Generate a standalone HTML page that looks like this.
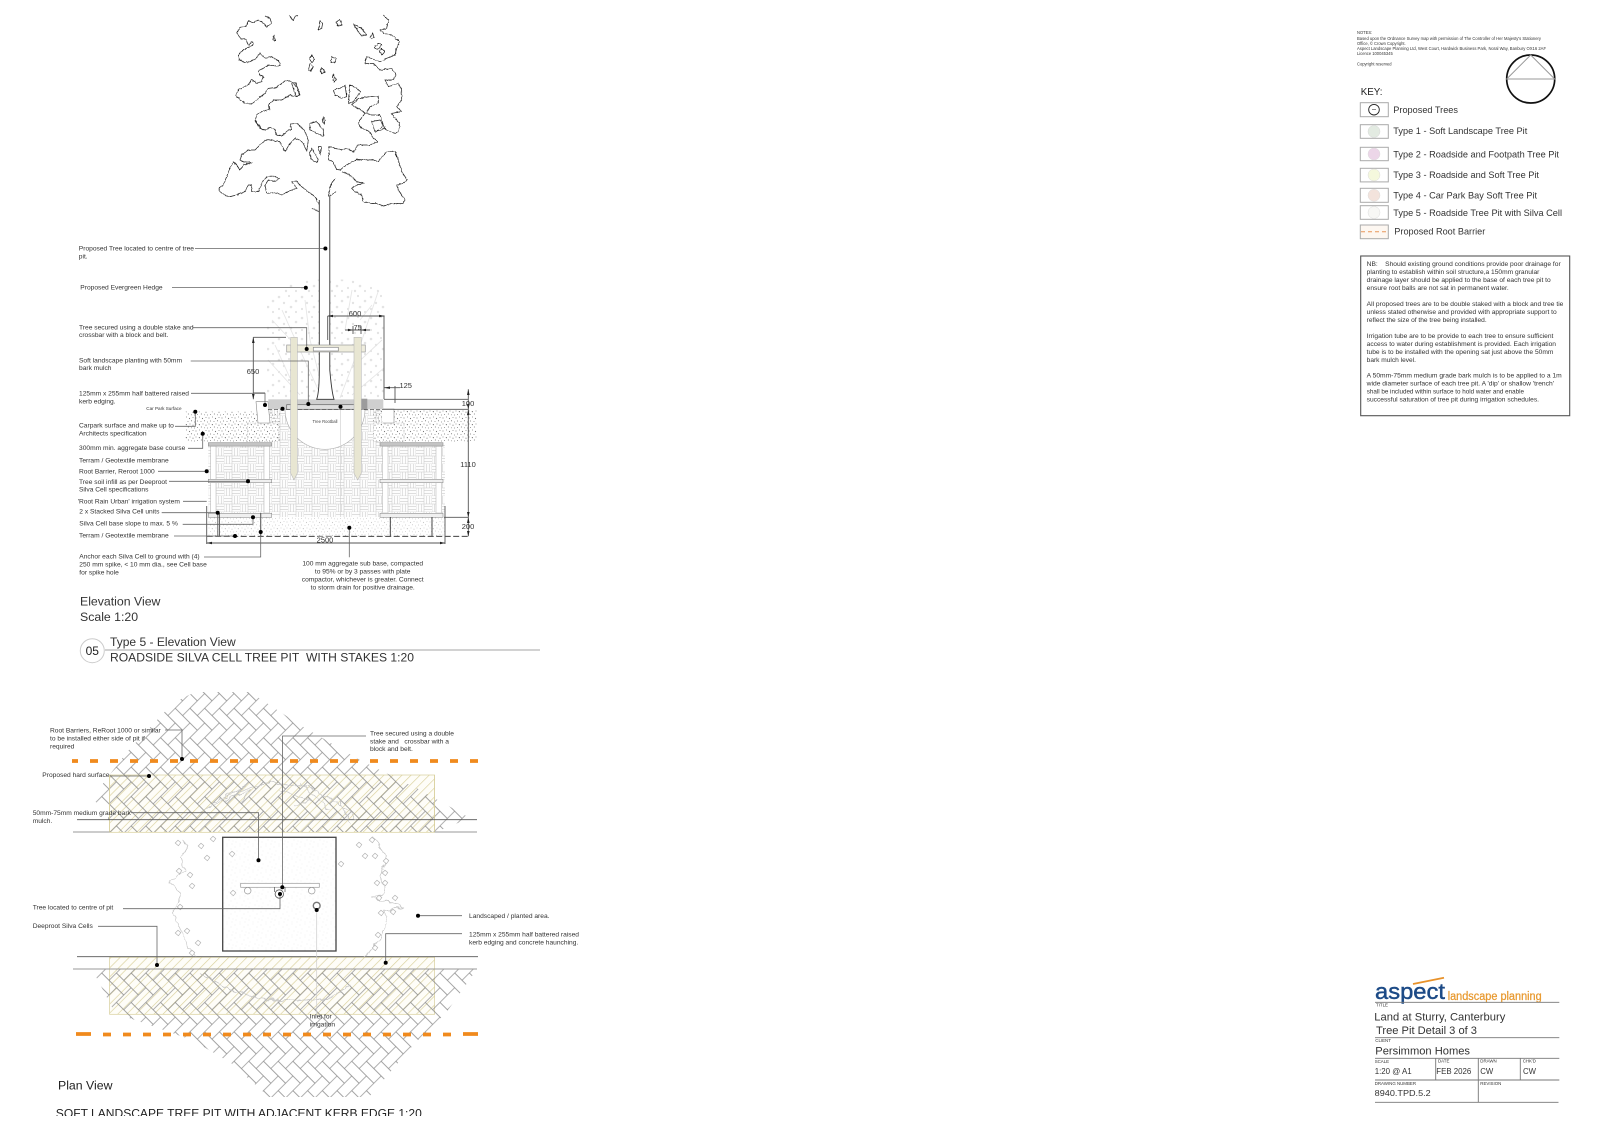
<!DOCTYPE html>
<html><head><meta charset="utf-8"><title>Tree Pit Detail 3 of 3</title>
<style>
html,body{margin:0;padding:0;background:#fff;width:1600px;height:1130px;overflow:hidden}
svg{display:block;font-family:"Liberation Sans",sans-serif;filter:blur(.3px)}
text{fill:#333}
.l{font-size:6.65px}
.n{font-size:6.4px}
.k{font-size:9.6px;fill:#222}
.h{font-size:12.3px;fill:#222}
.t{font-size:4.4px;fill:#555}
.v{font-size:9px;fill:#222}
.d{font-size:7.5px;fill:#333}
.ld{fill:none;stroke:#666;stroke-width:.8}
.dk{fill:none;stroke:#333;stroke-width:.9}
.lg{fill:none;stroke:#c2c2c2;stroke-width:.7}
</style></head><body>
<svg width="1600" height="1130" viewBox="0 0 1600 1130" xmlns="http://www.w3.org/2000/svg">
<defs>
<filter id="wob" x="-5%" y="-5%" width="110%" height="110%"><feTurbulence type="fractalNoise" baseFrequency=".13" numOctaves="2" seed="4"/><feDisplacementMap in="SourceGraphic" scale="6" xChannelSelector="R" yChannelSelector="G"/></filter>
<pattern id="herr" width="4" height="4" patternUnits="userSpaceOnUse" patternTransform="rotate(45 270 760) scale(10.4)"><path d="M0 0h2v1h-2zM2 0h1v2h-1zM3 1h2v1h-2zM-1 1h2v1h-2zM1 1h1v2h-1zM2 2h2v1h-2zM0 2h1v2h-1zM1 3h2v1h-2zM3 3h1v2h-1zM3 -1h1v2h-1z" fill="none" stroke="#858585" stroke-width=".062"/></pattern>
<pattern id="hatch" width="6.4" height="6.4" patternUnits="userSpaceOnUse" patternTransform="rotate(45)"><rect width="6.4" height="6.4" fill="#fefdf8"/><line x1="0" y1="0" x2="0" y2="6.4" stroke="#dad19c" stroke-width="1.3"/></pattern>
<pattern id="weave" width="16" height="16" patternUnits="userSpaceOnUse"><rect width="16" height="16" fill="#fdfdfd"/><path d="M0 2.7H8M0 5.3H8M0 8H16M8 10.7H16M8 13.3H16M0 16H16M8 0V8M10.7 0V8M13.3 0V8M16 0V8M0 8V16M2.7 8V16M5.3 8V16M8 8V16" fill="none" stroke="#cbcbcb" stroke-width=".55"/></pattern>
<pattern id="stip" width="13" height="13" patternUnits="userSpaceOnUse"><g fill="#777"><circle cx="1" cy="2" r=".55"/><circle cx="4.5" cy="1" r=".45"/><circle cx="7.5" cy="2.5" r=".6"/><circle cx="11" cy="1.5" r=".45"/><circle cx="2.5" cy="5" r=".55"/><circle cx="6" cy="5.5" r=".45"/><circle cx="9.5" cy="4.8" r=".55"/><circle cx="12.4" cy="6" r=".45"/><circle cx="1" cy="8" r=".45"/><circle cx="4.4" cy="8.6" r=".6"/><circle cx="8" cy="8" r=".45"/><circle cx="11" cy="9.2" r=".55"/><circle cx="2.5" cy="11.5" r=".45"/><circle cx="6.4" cy="11" r=".55"/><circle cx="9.4" cy="11.8" r=".45"/><circle cx="12.4" cy="12" r=".45"/></g></pattern>
<pattern id="stipl" width="13" height="13" patternUnits="userSpaceOnUse"><g fill="#d8d8d8"><circle cx="1" cy="2" r=".4"/><circle cx="6" cy="1" r=".35"/><circle cx="10" cy="4" r=".4"/><circle cx="3" cy="6" r=".35"/><circle cx="8" cy="8" r=".4"/><circle cx="12" cy="9" r=".35"/><circle cx="2" cy="10" r=".4"/><circle cx="6" cy="12" r=".35"/><circle cx="11" cy="12" r=".4"/></g></pattern>
<pattern id="hdots" width="23" height="21" patternUnits="userSpaceOnUse"><g fill="#e4e4e4"><circle cx="3" cy="3" r="1.3"/><circle cx="13" cy="2" r="1.1"/><circle cx="20" cy="7" r="1.3"/><circle cx="8" cy="9" r="1.2"/><circle cx="15" cy="13" r="1.3"/><circle cx="3" cy="15" r="1.1"/><circle cx="10" cy="18" r="1.2"/><circle cx="20" cy="18" r="1.1"/></g></pattern>
<clipPath id="hclip"><path d="M173 703 195 692 250 692 300 725 360 760 420 790 470 818 436 832 108 832 108 815 92 798 127 752Z"/></clipPath>
<clipPath id="hclip2"><path d="M92 969 477 969 446 1013 415 1043 369 1097 269 1097 231 1063 192 1040 115 1013Z"/></clipPath>
<clipPath id="tclip"><rect x="40" y="1100" width="420" height="16"/></clipPath>
<clipPath id="hedge"><path d="M267 400V300Q290 276 325 280Q365 276 386 296V400Z"/></clipPath>
<path id="dia" d="M-2.8 0 0-2.8 2.8-.4 .4 2.8Z" fill="#fff" stroke="#b5b5b5" stroke-width=".7"/>
</defs>
<rect width="1600" height="1130" fill="#fff"/>

<!-- TREE -->
<g transform="translate(210 0) scale(.33333)" fill="none" stroke="#222" stroke-width="2.2" stroke-linejoin="round">
<g filter="url(#wob)">
<path d="M165 48 180 55 185 70 170 80 160 70 145 60 130 68 115 62 108 78 90 82 80 100 92 115 108 118 115 135 128 125 130 135 115 142 100 150 85 165 90 180 105 188 120 185 135 178 150 160 165 175 185 170 205 182 212 195 200 198 175 195 160 205 145 212 150 225 160 228 155 245 140 250 125 238 118 252 100 262 85 268 78 285 90 300 105 310 125 312 140 300 165 280 175 265 200 262 222 245 235 240 250 250 262 262 270 285 262 290 240 285 215 300 190 300 175 315 178 328 155 335 140 345 135 365 150 378 152 385"/>
<path d="M520 45 535 60 530 85 510 90 520 100 545 105 568 125 560 145 555 165 530 175 510 185 490 178 470 170 465 190 490 190 510 210 545 205 558 225 550 240 525 240 535 260 565 250 575 270 575 300 560 320 575 335 545 340 550 350 570 370 565 395"/>
<path d="M325 90 330 62 338 70 335 85ZM378 68 388 58 398 75 385 78ZM430 72 455 85 470 105 455 108 445 95ZM480 112 488 100 492 112 485 117ZM192 105 196 122 188 120ZM305 165 314 180 305 188 298 175ZM300 190 310 200 303 214 295 210ZM365 170 380 175 375 188 363 188ZM335 203 345 215 335 222 330 212ZM370 222 378 240 372 245 367 232ZM505 130 515 135 502 150 493 143ZM515 145 524 155 517 165 508 155ZM236 45 250 62 255 50 264 46M370 270 390 265 405 255 410 290 395 295 375 285ZM420 255 440 265 452 275 430 305 415 310ZM245 250 258 248 268 285 258 290ZM340 352 346 360 342 372 337 362Z"/>
<path d="M450 360 465 340 445 325 425 315 445 295 480 290 505 290 505 310 480 320 470 340 485 345 510 345 520 375 510 385"/>
<g transform="translate(0 360)">
<path d="M135 0 150 25 165 30 180 22 195 28 200 45 215 48 235 30 245 28 240 12 260 10 275 22 285 35 295 60 290 95 280 70 270 60 255 55 240 70 225 95 210 65 190 62 170 58 150 75 135 90 115 90 95 105 90 120 100 125 125 128 100 135 90 150 80 135 70 125 60 145 50 170 40 195 25 205 30 215 45 225 60 230 80 225 105 215 115 195 125 195 125 215 145 215 155 190 170 170 190 168 208 175 195 185 175 180 165 195 170 220 195 218 215 225 240 212 260 205 245 185 260 183 275 200 295 215 315 230 328 255"/>
<path d="M305 265 328 275M358 228 378 215M395 155 420 165 440 185 462 190 440 195 425 205 435 215 455 225 460 245 480 250 500 250 520 258 545 250 580 250 585 240 565 210 560 195 580 190 592 180 575 155 565 120 555 95 530 95 505 125 490 120 440 118 410 135 390 150 380 148 368 125 355 120 358 80 375 85 395 90 410 85 430 95 445 75 480 75 503 65 490 55 480 35 455 25 445 10 450 0M555 40 540 35 520 25M565 35 555 40"/>
<path d="M305 85 325 120 320 128 305 118 298 100ZM325 80 335 80 330 105ZM300 10 320 5 340 30 340 50 320 40 300 30ZM485 5 510 0 525 25 495 35Z"/>
<path d="M375 175 362 195 355 230"/>
</g>
</g>
</g>

<!-- HEDGE -->
<g clip-path="url(#hedge)"><rect x="262" y="276" width="128" height="126" fill="url(#hdots)"/>
<path d="M322 398 300 350 282 310M300 350 272 320M325 398 310 340 305 300M340 398 362 340 378 292M352 368 382 340M345 330 352 290M300 395 268 360M352 395 384 368M290 378 275 345M360 320 372 305" fill="none" stroke="#e6e6e6" stroke-width=".9"/></g>

<!-- SOIL -->
<rect x="208.3" y="445" width="236.7" height="72" fill="url(#weave)"/>
<rect x="270" y="409.3" width="111.7" height="36" fill="url(#weave)"/>
<rect x="185" y="411.7" width="95" height="30" fill="url(#stip)"/>
<rect x="373" y="410" width="103.7" height="31.7" fill="url(#stip)"/>
<rect x="247.3" y="423" width="31" height="18.7" fill="#fff"/><rect x="247.3" y="423" width="31" height="18.7" fill="url(#stip)" stroke="#bbb" stroke-width=".5" stroke-dasharray="1.5 1"/>
<rect x="373.3" y="423" width="30.7" height="18.7" fill="#fff"/><rect x="373.3" y="423" width="30.7" height="18.7" fill="url(#stip)" stroke="#bbb" stroke-width=".5" stroke-dasharray="1.5 1"/>
<rect x="208" y="517.3" width="237" height="18.7" fill="url(#stip)" opacity=".4"/>
<path d="M256 401.7H268L270 423H258Z" fill="#fff" stroke="#888" stroke-width=".6"/>
<path d="M382.7 409H394V423H382.7" fill="#fff" stroke="#888" stroke-width=".6"/>

<!-- posts & plates -->
<g fill="#fff" stroke="#bcbcbc" stroke-width=".6">
<rect x="210.7" y="446" width="5.3" height="67"/><rect x="264" y="446" width="5.3" height="67"/><rect x="382.7" y="446" width="5.3" height="67"/><rect x="436" y="446" width="5.7" height="67"/>
</g>
<g stroke="#8f8f8f" stroke-width=".6">
<rect x="208.3" y="442.7" width="63.4" height="3.4" fill="#c4c4c4"/><rect x="380" y="442.7" width="63" height="3.4" fill="#c4c4c4"/>
<rect x="208.3" y="479.3" width="63.4" height="3.4" fill="#f0f0f0"/><rect x="380" y="479.3" width="63" height="3.4" fill="#f0f0f0"/>
<rect x="208.3" y="513.3" width="63.4" height="4" fill="#f0f0f0"/><rect x="380" y="513.3" width="63" height="4" fill="#f0f0f0"/>
</g>

<!-- pavement, plate, rootball -->
<path d="M285 409.3H365A40 40 0 0 1 285 409.3Z" fill="#fff" stroke="#aaa" stroke-width=".6"/>
<rect x="268.3" y="399.3" width="115" height="10" fill="#cfcfcf"/>
<rect x="286.7" y="404.7" width="80" height="4.6" fill="#dedede" stroke="#666" stroke-width=".7"/>
<rect x="360.7" y="398.7" width="6.6" height="10.6" fill="#9c9c9c"/>
<path d="M340.7 409V517" stroke="#ccc" stroke-width=".6" fill="none"/>
<path d="M268 409.3H383" stroke="#333" stroke-width=".7" stroke-dasharray="4 2" fill="none"/>
<!-- trunk -->
<path d="M319.3 200V370Q319.3 392 316.7 399.3H334Q331.7 392 329.8 370V196" fill="#fff" stroke="#333" stroke-width=".9"/>
<!-- crossbar and stakes -->
<rect x="286.7" y="345" width="78.6" height="7" fill="#efeddd" stroke="#999" stroke-width=".7"/>
<rect x="313.3" y="347.3" width="25" height="3.7" fill="#fff" stroke="#888" stroke-width=".7"/>
<path d="M290.7 337.3H297.3V473.3L294 480 290.7 473.3Z" fill="#e8e6d2" stroke="#bbb" stroke-width=".6"/>
<path d="M354 337.3H361.3V473.3L357.7 480 354 473.3Z" fill="#e8e6d2" stroke="#bbb" stroke-width=".6"/>
<text x="325" y="423" text-anchor="middle" style="font-size:4.2px;fill:#444">Tree Rootball</text>

<!-- elevation dims and structure lines -->
<g class="dk">
<path d="M206.7 536.3H468.3" stroke-dasharray="6 2.5" stroke="#222"/>
<path d="M219.3 513V536M260.7 513V536M390.3 517V536M432 517V536" stroke="#333"/>
<path d="M206.7 506V544M445 506V544M206.7 543H445" stroke="#555"/>
<path d="M468.3 389.3V536.3M383 409.3H468.3M384 399.3H468.3M444 517.3H468.3" stroke="#555"/>
<path d="M327.7 316H384.6M384 316V399M327.7 316V340M345 330H370M353 326V334M361 326V334" stroke="#555"/>
<path d="M384 387.7H400M395 386V403" stroke="#555"/>
<path d="M253.3 337.3V399.3M253.3 337.3H286M253.3 393H265" stroke="#555"/>
</g>
<g fill="#222"><path d="M468.3 389.3 467 395H469.6ZM468.3 409.3 467 404H469.6ZM468.3 409.3 467 415H469.6ZM468.3 517.3 467 512H469.6ZM468.3 517.3 467 523H469.6ZM468.3 536.3 467 531H469.6ZM206.7 543 212 541.8V544.2ZM445 543 440 541.8V544.2ZM327.7 316 333 314.8V317.2ZM384.6 316 379 314.8V317.2ZM253.3 337.3 252 343H254.6ZM253.3 399.3 252 394H254.6ZM353 330 348 328.8V331.2ZM361 330 366 328.8V331.2ZM384 387.7 390 386.5V388.9Z"/></g>
<g class="d" text-anchor="middle">
<rect x="318" y="536.5" width="15" height="5.5" fill="#fff"/>
<text x="325" y="542.3">2500</text><text x="355" y="316">600</text><text x="357.7" y="330">75</text>
<text x="253" y="374.2">650</text><text x="405.7" y="388.2">125</text><text x="468" y="406.2">100</text><text x="468" y="466.8">1110</text><text x="468" y="529.2">200</text>
</g>

<!-- elevation leaders -->
<g class="ld">
<path d="M195 248.5H325M172 287.5H305.8M193 327.7H306.7V349M190.7 361H308.3V404M191 393.3H265V405M175 426.3H195.3V411.7M188 448.3H202.7V433.7M158 471.3H206.7M169 481.3H248M183 501.3H206.7M161.7 512.7H217.7V536M182.7 524.3H253V517.3M174 536H235M204 557H260.7V512.7M349.3 527.7V557.3"/>
</g>
<g fill="#000">
<circle cx="325.4" cy="248.5" r="2"/><circle cx="305.8" cy="287.7" r="2"/><circle cx="306.7" cy="349" r="2"/><circle cx="308.3" cy="404" r="2"/><circle cx="265" cy="405" r="2"/><circle cx="340.5" cy="406.7" r="2"/><circle cx="282.5" cy="408.8" r="2"/><circle cx="195.3" cy="411.7" r="2"/><circle cx="202.7" cy="433.7" r="2"/><circle cx="206.7" cy="471.3" r="2"/><circle cx="248" cy="481.3" r="2"/><circle cx="217.7" cy="512.7" r="2"/><circle cx="253" cy="517.3" r="2"/><circle cx="235" cy="536" r="2"/><circle cx="260.7" cy="532" r="2"/><circle cx="349.3" cy="527.7" r="2"/>
</g>

<!-- elevation labels -->
<g class="l">
<text x="78.8" y="250.4">Proposed Tree located to centre of tree</text><text x="78.8" y="258.4">pit.</text>
<text x="80.3" y="289.4">Proposed Evergreen Hedge</text>
<text x="79" y="329.4">Tree secured using a double stake and</text><text x="79" y="337">crossbar with a block and belt.</text>
<text x="79" y="362.3">Soft landscape planting with 50mm</text><text x="79" y="370">bark mulch</text>
<text x="79" y="395.3">125mm x 255mm half battered raised</text><text x="79" y="403.3">kerb edging.</text>
<text x="146.3" y="410" style="font-size:4.6px">Car Park Surface</text>
<text x="79" y="427.3">Carpark surface and make up to</text><text x="79" y="435.3">Architects specification</text>
<text x="79" y="450">300mm min. aggregate base course</text>
<text x="79" y="462.3">Terram / Geotextile membrane</text>
<text x="79" y="473.3">Root Barrier, Reroot 1000</text>
<text x="79" y="484">Tree soil infill as per Deeproot</text><text x="79" y="491.6">Silva Cell specifications</text>
<text x="77.7" y="503.3">'Root Rain Urban' irrigation system</text>
<text x="79.3" y="513.6">2 x Stacked Silva Cell units</text>
<text x="79.3" y="525.6">Silva Cell base slope to max. 5 %</text>
<text x="79" y="537.6">Terram / Geotextile membrane</text>
<text x="79.3" y="558.6">Anchor each Silva Cell to ground with (4)</text><text x="79.3" y="566.6">250 mm spike, &lt; 10 mm dia., see Cell base</text><text x="79.3" y="574.6">for spike hole</text>
<g text-anchor="middle"><text x="362.7" y="565.6">100 mm aggregate sub base, compacted</text><text x="362.7" y="573.6">to 95% or by 3 passes with plate</text><text x="362.7" y="581.6">compactor, whichever is greater. Connect</text><text x="362.7" y="589.6">to storm drain for positive drainage.</text></g>
</g>
<g class="h">
<text x="80" y="605.4">Elevation View</text><text x="80" y="621">Scale 1:20</text>
<text x="110" y="646" textLength="125.7" lengthAdjust="spacingAndGlyphs">Type 5 - Elevation View</text>
<text x="110" y="661.4" textLength="304" lengthAdjust="spacingAndGlyphs">ROADSIDE SILVA CELL TREE PIT&#160; WITH STAKES 1:20</text>
</g>
<circle cx="92.3" cy="650.7" r="12" fill="#fff" stroke="#ccc" stroke-width="1"/>
<text x="92.3" y="655" text-anchor="middle" style="font-size:12px;fill:#222">05</text>
<path d="M105 650H540" stroke="#888" stroke-width=".8" fill="none"/>

<!-- PLAN -->
<rect x="109.6" y="775" width="325" height="57.3" fill="url(#hatch)" stroke="#d8cf9c" stroke-width=".7"/>
<rect x="109.6" y="957.3" width="325" height="57" fill="url(#hatch)" stroke="#d8cf9c" stroke-width=".7"/>
<g clip-path="url(#hclip)"><rect x="85" y="685" width="400" height="150" fill="url(#herr)"/></g>
<g clip-path="url(#hclip2)"><rect x="85" y="965" width="400" height="135" fill="url(#herr)"/></g>
<path d="M109.6 775V832.3M434.6 775V832.3" stroke="#d8cf9c" stroke-width=".8"/>
<path d="M77 819.7H477M77 956.7H478" stroke="#555" stroke-width=".9" fill="none"/>
<path d="M73 832H109.6M434.6 832H477M73 969H477" stroke="#999" stroke-width=".9" fill="none"/>
<path d="M90 761H478" stroke="#f08a1d" stroke-width="3.8" stroke-dasharray="8 12" fill="none"/>
<path d="M72 761H78" stroke="#f08a1d" stroke-width="3.8" fill="none"/>
<path d="M76 1034H91M463 1034H478" stroke="#f08a1d" stroke-width="3.8" fill="none"/>
<path d="M103 1034.5H460" stroke="#f08a1d" stroke-width="3.8" stroke-dasharray="8 12" fill="none"/>

<!-- shrub ghost -->
<g class="lg" filter="url(#wob)">
<path d="M181 840 188 847 181 857 185 870 169 883 181 893 173 913 181 930 188 947 196 957"/>
<path d="M373 837 387 857 381 877 385 893 373 898 404 907 385 910 387 923 379 940 365 957"/>
<path d="M200 813 230 793 269 783 308 787 338 803 358 820M215 805 245 785M300 783 330 810M340 800 350 825M225 800 250 790 240 805M280 790 310 800 295 805"/>
<path d="M200 973 230 990 269 1000 327 1000 350 985"/>
</g>
<g>
<use href="#dia" x="178" y="843"/><use href="#dia" x="201" y="846"/><use href="#dia" x="207" y="858"/><use href="#dia" x="232" y="855"/><use href="#dia" x="179" y="871"/><use href="#dia" x="190" y="875"/><use href="#dia" x="192" y="886"/><use href="#dia" x="180" y="907"/><use href="#dia" x="233" y="893"/><use href="#dia" x="187" y="931"/><use href="#dia" x="178" y="933"/><use href="#dia" x="198" y="943"/><use href="#dia" x="192" y="953"/><use href="#dia" x="213" y="839"/>
<use href="#dia" x="359" y="845"/><use href="#dia" x="372" y="840"/><use href="#dia" x="365" y="856"/><use href="#dia" x="375" y="856"/><use href="#dia" x="386" y="861"/><use href="#dia" x="341" y="864"/><use href="#dia" x="385" y="873"/><use href="#dia" x="377" y="883"/><use href="#dia" x="385" y="883"/><use href="#dia" x="379" y="898"/><use href="#dia" x="395" y="898"/><use href="#dia" x="381" y="913"/><use href="#dia" x="393" y="912"/><use href="#dia" x="378" y="935"/><use href="#dia" x="375" y="948"/>
</g>

<!-- pit -->
<rect x="222.7" y="837.3" width="113.3" height="113.7" fill="#fff"/>
<rect x="222.7" y="837.3" width="113.3" height="113.7" fill="url(#stipl)" stroke="#444" stroke-width="1.3"/>
<rect x="240.7" y="883.3" width="78.6" height="4" fill="#fff" stroke="#999" stroke-width=".7"/>
<circle cx="247.7" cy="890.7" r="3.3" fill="#fff" stroke="#999" stroke-width=".7"/>
<circle cx="311.7" cy="890.7" r="3.3" fill="#fff" stroke="#999" stroke-width=".7"/>
<circle cx="279.3" cy="894" r="4.2" fill="#fff" stroke="#555" stroke-width=".8"/>
<path d="M274.5 887V892M285 887V892" stroke="#555" stroke-width=".7"/>
<circle cx="316.7" cy="905.7" r="3.4" fill="#fff" stroke="#777" stroke-width="1.4"/>
<path d="M316.7 910V1016" stroke="#ccc" stroke-width=".7" fill="none"/>
<use href="#dia" x="232" y="854"/><use href="#dia" x="233" y="893"/>

<!-- plan leaders -->
<g class="ld">
<path d="M165 730H182V759M110 776H149M131 812.7H258.5V860.3M366 736H282.5V887.3M123 908.7H280V894M98 926.3H157V965M419 915.7H462M462 933.7H385.7V962.7"/>
</g>
<g fill="#000"><circle cx="182" cy="759" r="2"/><circle cx="149" cy="776" r="2"/><circle cx="258.5" cy="860.3" r="2"/><circle cx="282.3" cy="887.3" r="2"/><circle cx="280" cy="894" r="2"/><circle cx="316.7" cy="910" r="2"/><circle cx="418" cy="915.7" r="2"/><circle cx="157" cy="965" r="2"/><circle cx="385.7" cy="962.7" r="2"/></g>
<g class="l">
<text x="50" y="732.3">Root Barriers, ReRoot 1000 or similar</text><text x="50" y="740.3">to be installed either side of pit if</text><text x="50" y="748.3">required</text>
<text x="42.3" y="777">Proposed hard surface</text>
<text x="32.7" y="815">50mm-75mm medium grade bark</text><text x="32.7" y="823">mulch.</text>
<text x="370" y="735.3">Tree secured using a double</text><text x="370" y="743.3">stake and &#160; crossbar with a</text><text x="370" y="751">block and belt.</text>
<text x="32.7" y="909.3">Tree located to centre of pit</text>
<text x="32.7" y="928">Deeproot Silva Cells</text>
<text x="469" y="918">Landscaped / planted area.</text>
<text x="469" y="936.6">125mm x 255mm half battered raised</text><text x="469" y="944.6">kerb edging and concrete haunching.</text>
<text x="309.6" y="1018.3">Inlet for</text><text x="309.6" y="1026.3">irrigation</text>
</g>
<text x="58" y="1089.5" class="h">Plan View</text>
<g clip-path="url(#tclip)"><text x="55.8" y="1117.5" class="h" textLength="366" lengthAdjust="spacingAndGlyphs">SOFT LANDSCAPE TREE PIT WITH ADJACENT KERB EDGE 1:20</text></g>

<!-- NOTES -->
<g style="font-size:4.1px">
<text x="1357" y="34">NOTES:</text>
<text x="1357" y="40" textLength="184" lengthAdjust="spacingAndGlyphs">Based upon the Ordnance Survey map with permission of The Controller of Her Majesty's Stationery</text>
<text x="1357" y="45">Office, © Crown Copyright.</text>
<text x="1357" y="50.2" textLength="189" lengthAdjust="spacingAndGlyphs">Aspect Landscape Planning Ltd, West Court, Hardwick Business Park, Noral Way, Banbury OX16 2AF</text>
<text x="1357" y="55">Licence 100045345</text>
<text x="1357" y="65.3">Copyright reserved</text>
</g>
<circle cx="1530.7" cy="79" r="24" fill="none" stroke="#111" stroke-width="1.7"/>
<path d="M1506.7 79 1530.7 55 1554.7 79Z" fill="none" stroke="#999" stroke-width="1"/>

<!-- KEY -->
<text x="1360.7" y="95" class="k" style="font-size:9.8px">KEY:</text>
<g fill="#fff" stroke="#aaa" stroke-width="1">
<rect x="1360.3" y="102.7" width="28" height="14"/><rect x="1360.3" y="124.7" width="28" height="13.6"/><rect x="1360.3" y="147.3" width="28" height="13.4"/><rect x="1360.3" y="168.3" width="28" height="13.6"/><rect x="1360.3" y="188.3" width="28" height="14"/><rect x="1360.3" y="205.7" width="28" height="13.6"/><rect x="1360.3" y="225" width="28" height="13.7" fill="#fdf7f1"/>
</g>
<circle cx="1374" cy="109.7" r="5.3" fill="#fff" stroke="#222" stroke-width=".9"/><path d="M1372 109.7H1376" stroke="#444" stroke-width=".6"/>
<circle cx="1374" cy="131.5" r="6" fill="#e3ebe2" stroke="#d8d8d8" stroke-width=".5"/>
<circle cx="1374" cy="154" r="6" fill="#ecd6e8" stroke="#ddd" stroke-width=".5"/>
<circle cx="1374" cy="175" r="6" fill="#f5f8dd" stroke="#ddd" stroke-width=".5"/>
<circle cx="1374" cy="195.3" r="6" fill="#f3e3dc" stroke="#ddd" stroke-width=".5"/>
<circle cx="1374" cy="212.5" r="6" fill="#f7f7f5" stroke="#ddd" stroke-width=".5"/>
<path d="M1361 231.8H1388" stroke="#e8975a" stroke-width="1" stroke-dasharray="4 3" fill="none"/>
<g class="k">
<text x="1393.3" y="113" textLength="64.7" lengthAdjust="spacingAndGlyphs">Proposed Trees</text>
<text x="1393.3" y="134.2" textLength="134" lengthAdjust="spacingAndGlyphs">Type 1 - Soft Landscape Tree Pit</text>
<text x="1393.3" y="157.4" textLength="165.7" lengthAdjust="spacingAndGlyphs">Type 2 - Roadside and Footpath Tree Pit</text>
<text x="1393.3" y="178.2" textLength="145.7" lengthAdjust="spacingAndGlyphs">Type 3 - Roadside and Soft Tree Pit</text>
<text x="1393.3" y="198.7" textLength="143.7" lengthAdjust="spacingAndGlyphs">Type 4 - Car Park Bay Soft Tree Pit</text>
<text x="1393.3" y="216" textLength="168.7" lengthAdjust="spacingAndGlyphs">Type 5 - Roadside Tree Pit with Silva Cell</text>
<text x="1394.3" y="234.7" textLength="91" lengthAdjust="spacingAndGlyphs">Proposed Root Barrier</text>
</g>

<!-- NB -->
<rect x="1360.7" y="256" width="209" height="159.7" fill="#fff" stroke="#555" stroke-width="1.1"/>
<g class="n">
<text x="1366.7" y="266.2" textLength="194" lengthAdjust="spacingAndGlyphs">NB:&#160;&#160;&#160;&#160;Should existing ground conditions provide poor drainage for</text>
<text x="1366.7" y="274.2" textLength="172.7" lengthAdjust="spacingAndGlyphs">planting to establish within soil structure,a 150mm granular</text>
<text x="1366.7" y="282" textLength="184" lengthAdjust="spacingAndGlyphs">drainage layer should be applied to the base of each tree pit to</text>
<text x="1366.7" y="290" textLength="142" lengthAdjust="spacingAndGlyphs">ensure root balls are not sat in permanent water.</text>
<text x="1366.7" y="306" textLength="196.7" lengthAdjust="spacingAndGlyphs">All proposed trees are to be double staked with a block and tree tie</text>
<text x="1366.7" y="314" textLength="190" lengthAdjust="spacingAndGlyphs">unless stated otherwise and provided with appropriate support to</text>
<text x="1366.7" y="322" textLength="120" lengthAdjust="spacingAndGlyphs">reflect the size of the tree being installed.</text>
<text x="1366.7" y="338" textLength="186.7" lengthAdjust="spacingAndGlyphs">Irrigation tube are to be provide to each tree to ensure sufficient</text>
<text x="1366.7" y="346" textLength="189.3" lengthAdjust="spacingAndGlyphs">access to water during establishment is provided. Each irrigation</text>
<text x="1366.7" y="354" textLength="186.7" lengthAdjust="spacingAndGlyphs">tube is to be installed with the opening sat just above the 50mm</text>
<text x="1366.7" y="362" textLength="49.3" lengthAdjust="spacingAndGlyphs">bark mulch level.</text>
<text x="1366.7" y="377.6" textLength="195" lengthAdjust="spacingAndGlyphs">A 50mm-75mm medium grade bark mulch is to be applied to a 1m</text>
<text x="1366.7" y="385.6" textLength="187.3" lengthAdjust="spacingAndGlyphs">wide diameter surface of each tree pit. A 'dip' or shallow 'trench'</text>
<text x="1366.7" y="393.6" textLength="157.3" lengthAdjust="spacingAndGlyphs">shall be included within surface to hold water and enable</text>
<text x="1366.7" y="401.6" textLength="172.3" lengthAdjust="spacingAndGlyphs">successful saturation of tree pit during irrigation schedules.</text>
</g>

<!-- TITLE BLOCK -->
<path d="M1413 984 1444 977.7" stroke="#e8922a" stroke-width="1.8" fill="none"/>
<text x="1375" y="999" textLength="70" lengthAdjust="spacingAndGlyphs" style="font-size:22.5px;fill:#1c4a86;stroke:#1c4a86;stroke-width:.45">aspect</text>
<text x="1447.7" y="1000" textLength="94" lengthAdjust="spacingAndGlyphs" style="font-size:11.5px;fill:#e8992f;stroke:#e8992f;stroke-width:.25">landscape planning</text>
<g fill="none" stroke="#777" stroke-width=".9">
<path d="M1375 1002.3H1559.3M1375 1037.7H1559.3M1375 1058.3H1559.3M1375 1080H1559.3M1375 1102.3H1558.5"/>
<path d="M1435.7 1058.3V1080M1478.3 1058.3V1102.3M1520.3 1058.3V1080"/>
</g>
<g class="t">
<text x="1376" y="1006.6">TITLE</text><text x="1375.3" y="1042">CLIENT</text><text x="1374.7" y="1063">SCALE</text><text x="1438" y="1062.6">DATE</text><text x="1480.3" y="1062.6">DRAWN</text><text x="1522.7" y="1062.6">CHK'D</text><text x="1374.7" y="1085">DRAWING NUMBER</text><text x="1480.3" y="1085">REVISION</text>
</g>
<g style="font-size:11px">
<text x="1374.3" y="1020.6" textLength="131" lengthAdjust="spacingAndGlyphs">Land at Sturry, Canterbury</text>
<text x="1376" y="1034" textLength="101" lengthAdjust="spacingAndGlyphs">Tree Pit Detail 3 of 3</text>
<text x="1375.3" y="1054.3" textLength="94.7" lengthAdjust="spacingAndGlyphs">Persimmon Homes</text>
</g>
<g style="font-size:8.6px">
<text x="1374.7" y="1073.8" textLength="37" lengthAdjust="spacingAndGlyphs">1:20 @ A1</text>
<text x="1436.3" y="1073.8" textLength="35" lengthAdjust="spacingAndGlyphs">FEB 2026</text>
<text x="1480.3" y="1073.8" textLength="13" lengthAdjust="spacingAndGlyphs">CW</text>
<text x="1523" y="1073.8" textLength="13" lengthAdjust="spacingAndGlyphs">CW</text>
<text x="1374.7" y="1096.2" textLength="56" lengthAdjust="spacingAndGlyphs">8940.TPD.5.2</text>
</g>
</svg>
</body></html>
